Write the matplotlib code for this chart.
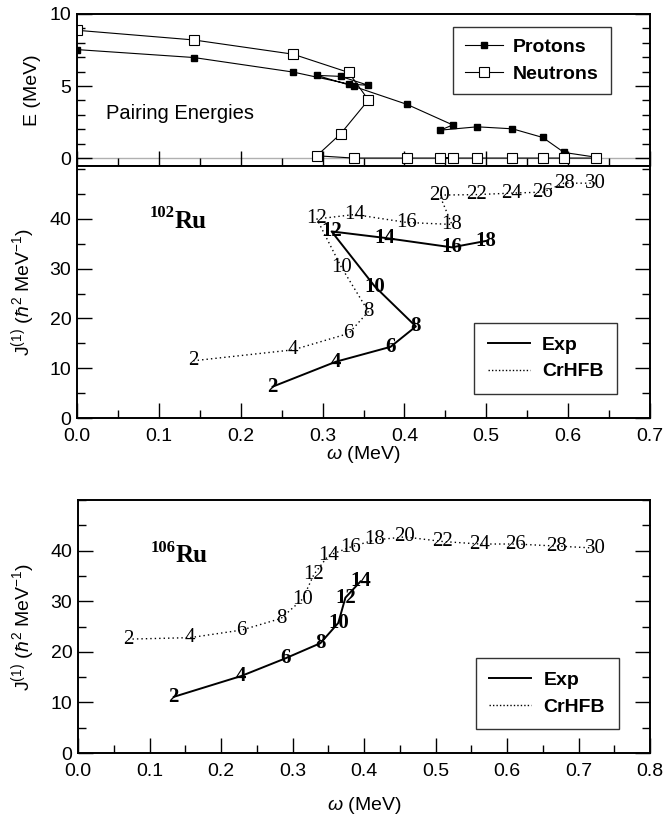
import numpy as np
import matplotlib.pyplot as plt
from matplotlib.ticker import MultipleLocator, FormatStrFormatter
from matplotlib.lines import Line2D

plt.rcParams['font.family'] = ['Liberation Sans', 'DejaVu Sans']
plt.rcParams['mathtext.fontset'] = 'custom'
plt.rcParams['mathtext.rm'] = 'Liberation Sans'
plt.rcParams['mathtext.it'] = 'Liberation Sans:italic'
plt.rcParams['mathtext.bf'] = 'Liberation Sans:bold'

# --- pairing energies (102Ru, CrHFB), spin order 0..30 ---
omega_pair = [0.0, 0.1425, 0.264, 0.332, 0.356, 0.322, 0.293, 0.338,
              0.403, 0.459, 0.444, 0.489, 0.532, 0.569, 0.595, 0.634]
e_protons = [7.53, 6.98, 5.97, 5.14, 5.05, 5.67, 5.74, 4.98,
             3.73, 2.30, 1.94, 2.17, 2.03, 1.43, 0.39, 0.06]
e_neutrons = [8.87, 8.20, 7.21, 5.94, 4.03, 1.68, 0.16, 0.0,
              0.0, 0.0, 0.0, 0.0, 0.0, 0.0, 0.0, 0.0]

# --- 102Ru moments of inertia ---
spins_102_th = [2, 4, 6, 8, 10, 12, 14, 16, 18, 20, 22, 24, 26, 28, 30]
omega_102_th = [0.142, 0.264, 0.332, 0.356, 0.323, 0.293, 0.339, 0.403,
                0.458, 0.443, 0.488, 0.531, 0.569, 0.595, 0.633]
j1_102_th = [11.5, 13.7, 17.0, 21.4, 30.3, 40.0, 40.9, 39.3,
             38.9, 44.8, 44.9, 45.2, 45.4, 47.2, 47.2]

spins_102_exp = [2, 4, 6, 8, 10, 12, 14, 16, 18]
omega_102_exp = [0.239, 0.316, 0.383, 0.414, 0.364, 0.311, 0.376, 0.458, 0.500]
j1_102_exp = [6.3, 11.3, 14.3, 18.4, 26.4, 37.5, 36.2, 34.3, 35.6]

# --- 106Ru moments of inertia ---
spins_106_th = [2, 4, 6, 8, 10, 12, 14, 16, 18, 20, 22, 24, 26, 28, 30]
omega_106_th = [0.070, 0.157, 0.229, 0.284, 0.314, 0.330, 0.350, 0.381,
                0.415, 0.457, 0.510, 0.562, 0.612, 0.669, 0.723]
j1_106_th = [22.5, 22.8, 24.3, 26.6, 30.4, 35.3, 39.0, 40.7,
             42.1, 42.7, 41.8, 41.3, 41.3, 40.9, 40.5]

spins_106_exp = [2, 4, 6, 8, 10, 12, 14]
omega_106_exp = [0.134, 0.228, 0.290, 0.339, 0.364, 0.374, 0.395]
j1_106_exp = [11.1, 15.2, 18.7, 21.7, 25.7, 30.7, 33.9]

W, H = 664, 823
fig = plt.figure(figsize=(W / 100, H / 100), dpi=100)


def px_axes(x0, x1, ytop, ybot):
    return fig.add_axes([x0 / W, 1 - ybot / H, (x1 - x0) / W, (ybot - ytop) / H])


def style_axes(ax):
    for s in ax.spines.values():
        s.set_linewidth(1.4)
    ax.tick_params(which='both', direction='in', right=True, top=False,
                   labelsize=14, width=1.0)
    ax.tick_params(which='major', length=11)
    ax.tick_params(which='minor', length=5.5)
    ax.tick_params(axis='y', pad=4)
    ax.tick_params(axis='x', pad=7)


ax1 = px_axes(77, 650, 14, 166)
ax2 = px_axes(77, 650, 166, 418)
ax3 = px_axes(78, 650, 500, 753)

# ---------- top: pairing energies ----------
ax1.axhline(0, color='#b0b0b0', lw=1.0, zorder=0)
ax1.plot(omega_pair, e_protons, '-', color='black', lw=0.8, marker='s',
         ms=4, mfc='black', mec='black', label='Protons')
ax1.plot(omega_pair, e_neutrons, '-', color='black', lw=0.8, marker='s',
         ms=7, mfc='white', mec='black', mew=0.8, label='Neutrons')
ax1.set_xlim(0, 0.7)
ax1.set_ylim(-0.55, 10)
ax1.xaxis.set_major_locator(MultipleLocator(0.1))
ax1.xaxis.set_minor_locator(MultipleLocator(0.05))
ax1.set_yticks([0, 5, 10])
ax1.yaxis.set_minor_locator(MultipleLocator(1))
style_axes(ax1)
ax1.tick_params(axis='x', labelbottom=False)
ax1.set_ylabel('E (MeV)', fontsize=14)
ax1.yaxis.set_label_coords(-0.062, 0.5)
ax1.text(0.035, 3.1, 'Pairing Energies', fontsize=14.5, va='center', ha='left')
leg1 = ax1.legend(loc='upper left', bbox_to_anchor=(0.656, 0.915),
                  fancybox=False, edgecolor='black',
                  prop={'weight': 'bold', 'size': 14}, handlelength=2.0,
                  borderpad=0.6, labelspacing=0.45, handletextpad=0.5,
                  borderaxespad=0)
leg1.get_frame().set_linewidth(1.0)


# ---------- J(1) panels ----------
def draw_j1(ax, om_th, j_th, sp_th, om_ex, j_ex, sp_ex):
    ax.plot(om_th, j_th, linestyle=(0, (1, 2.2)), color='black', lw=1.0, zorder=1)
    ax.plot(om_ex, j_ex, '-', color='black', lw=1.4, zorder=1)
    for o, j, s in zip(om_th, j_th, sp_th):
        ax.text(o, j, str(s), family='Liberation Serif', fontsize=15,
                ha='center', va='center', zorder=3)
    for o, j, s in zip(om_ex, j_ex, sp_ex):
        ax.text(o, j, str(s), family='Liberation Serif', fontsize=15,
                fontweight='bold', ha='center', va='center', zorder=3)
    ax.set_yticks([0, 10, 20, 30, 40])
    ax.yaxis.set_minor_locator(MultipleLocator(5))
    ax.xaxis.set_major_locator(MultipleLocator(0.1))
    ax.xaxis.set_minor_locator(MultipleLocator(0.05))
    ax.xaxis.set_major_formatter(FormatStrFormatter('%.1f'))
    style_axes(ax)
    ax.set_ylabel(r'J$^{(1)}$ ($\hbar^2$ MeV$^{-1}$)', fontsize=14)
    handles = [Line2D([], [], color='black', lw=1.4),
               Line2D([], [], color='black', lw=1.0, linestyle=(0, (1, 1.5)))]
    return handles


def iso_label(ax, x, y, mass):
    ax.text(x, y, mass, transform=ax.transAxes, family='Liberation Serif',
            fontsize=12, fontweight='bold', ha='right', va='bottom')
    ax.text(x, y - 0.045, 'Ru', transform=ax.transAxes, family='Liberation Serif',
            fontsize=18, fontweight='bold', ha='left', va='bottom')


def j1_legend(ax, handles, anchor):
    leg = ax.legend(handles, ['Exp', 'CrHFB'], loc='lower left',
                    bbox_to_anchor=anchor, fancybox=False, edgecolor='black',
                    prop={'weight': 'bold', 'size': 14}, handlelength=2.15,
                    borderpad=0.7, labelspacing=0.45, handletextpad=0.65,
                    borderaxespad=0)
    leg.get_frame().set_linewidth(1.0)


h = draw_j1(ax2, omega_102_th, j1_102_th, spins_102_th,
            omega_102_exp, j1_102_exp, spins_102_exp)
ax2.set_xlim(0, 0.7)
ax2.set_ylim(0, 50.65)
ax2.yaxis.set_label_coords(-0.07, 0.5)
ax2.set_xlabel(r'$\omega$ (MeV)', fontsize=14)
ax2.xaxis.set_label_coords(0.5, -0.103)
iso_label(ax2, 0.171, 0.78, '102')
j1_legend(ax2, h, (0.693, 0.095))

h = draw_j1(ax3, omega_106_th, j1_106_th, spins_106_th,
            omega_106_exp, j1_106_exp, spins_106_exp)
ax3.set_xlim(0, 0.8)
ax3.set_ylim(0, 50)
ax3.yaxis.set_label_coords(-0.072, 0.5)
ax3.set_xlabel(r'$\omega$ (MeV)', fontsize=14)
ax3.xaxis.set_label_coords(0.5, -0.167)
iso_label(ax3, 0.17, 0.78, '106')
j1_legend(ax3, h, (0.695, 0.094))

fig.savefig('out.png', dpi=100)
